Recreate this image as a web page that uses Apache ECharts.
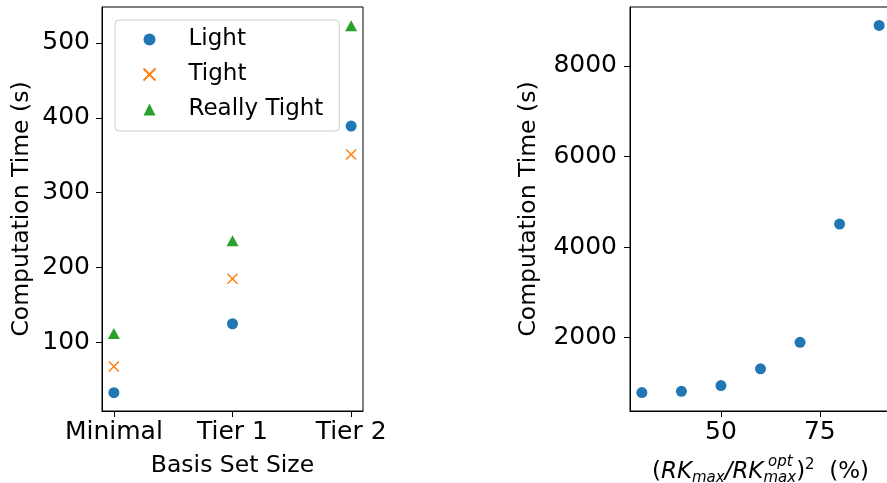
<!DOCTYPE html>
<html lang="en">
<head>
    <meta charset="UTF-8">
    <title>Computation Time</title>
    <script src="https://cdn.jsdelivr.net/npm/echarts@6/dist/echarts.min.js"></script>
</head>
<body style="margin:0">
<div id="main" style="width: 887px;height: 483px"></div>
<script type="text/javascript">
  // left panel: basis set size vs time
  var categories = ['Minimal', 'Tier 1', 'Tier 2'];
  var lightTimes = [33, 125, 389];
  var tightTimes = [68, 185, 351];
  var reallyTightTimes = [112, 236, 523];
  var leftYTicks = [100, 200, 300, 400, 500];

  // right panel: RKmax ratio vs time
  var rkPercent = [30, 40, 50, 60, 70, 80, 90];
  var rkTimes = [786, 815, 941, 1312, 1896, 4508, 8893];
  var rightXTicks = [50, 75];
  var rightYTicks = [2000, 4000, 6000, 8000];

  var font = 'DejaVu Sans';
  var black = '#000';

  function pairs(values) {
    return values.map(function(v, i) { return [i, v]; });
  }

  function valueAxis(gridIndex, min, max, ticks, extra) {
    var axis = {
      type: 'value',
      gridIndex: gridIndex,
      min: min,
      max: max,
      splitLine: { show: false },
      axisLine: { show: true, onZero: false, lineStyle: { color: black, width: 1 } },
      axisTick: { show: true, length: 6, lineStyle: { color: black }, customValues: ticks },
      axisLabel: {
        color: black, fontFamily: font, fontSize: 25, margin: 10, customValues: ticks,
        formatter: function(v) { return String(v); }
      },
      nameLocation: 'middle',
      nameTextStyle: { color: black, fontFamily: font, fontSize: 23.5 }
    };
    for (var k in extra) axis[k] = extra[k];
    return axis;
  }

  var myChart = echarts.init(document.getElementById('main'));

  var option = {
    animation: false,
    grid: [
      { left: 102, top: 7, width: 261, height: 404, outerBoundsMode: 'none', show: true, borderColor: black, borderWidth: 1 },
      { left: 630, top: 7, width: 261, height: 404, outerBoundsMode: 'none', show: true, borderColor: black, borderWidth: 1 }
    ],
    xAxis: [
      valueAxis(0, -0.1, 2.1, [0, 1, 2], {
        name: 'Basis Set Size',
        nameGap: 43
      }),
      valueAxis(1, 27, 93, rightXTicks, {
        name: '{n|(}{i|RK}{sub|max}{i|/RK}{sub|max}{n|)}{sup|2}{n|  (%)}',
        nameGap: 47
      })
    ],
    yAxis: [
      valueAxis(0, 8.5, 548, leftYTicks, {
        name: 'Computation Time (s)',
        nameGap: 68
      }),
      valueAxis(1, 380, 9300, rightYTicks, {
        name: 'Computation Time (s)',
        nameGap: 89
      })
    ],
    legend: {
      orient: 'vertical',
      left: 115,
      top: 20,
      padding: [8, 16, 10, 26],
      itemWidth: 12,
      itemHeight: 12,
      itemGap: 12,
      borderColor: '#cccccc',
      borderWidth: 1,
      borderRadius: 4,
      backgroundColor: 'rgba(255,255,255,0.8)',
      textStyle: { color: black, fontFamily: font, fontSize: 23, padding: [0, 0, 0, 28] },
      data: ['Light', 'Tight', 'Really Tight']
    },
    series: [
      {
        name: 'Light', type: 'scatter', xAxisIndex: 0, yAxisIndex: 0,
        symbol: 'circle', symbolSize: 11,
        itemStyle: { color: '#1f77b4', opacity: 1 },
        data: pairs(lightTimes)
      },
      {
        name: 'Tight', type: 'scatter', xAxisIndex: 0, yAxisIndex: 0,
        symbol: 'path://M0,0L10,10M10,0L0,10', symbolSize: 10,
        itemStyle: { color: 'none', borderColor: '#ff7f0e', borderWidth: 1.5, opacity: 1 },
        data: pairs(tightTimes)
      },
      {
        name: 'Really Tight', type: 'scatter', xAxisIndex: 0, yAxisIndex: 0,
        symbol: 'triangle', symbolSize: [12, 11],
        itemStyle: { color: '#2ca02c', opacity: 1 },
        data: pairs(reallyTightTimes)
      },
      {
        name: 'rk', type: 'scatter', xAxisIndex: 1, yAxisIndex: 1,
        symbol: 'circle', symbolSize: 11,
        itemStyle: { color: '#1f77b4', opacity: 1 },
        data: rkPercent.map(function(p, i) { return [p, rkTimes[i]]; })
      }
    ]
  };

  option.xAxis[0].axisLabel.formatter = function(v) { return categories[Math.round(v)]; };
  option.xAxis[0].axisLabel.margin = 9;
  option.xAxis[1].axisLabel.margin = 9;
  option.yAxis[0].axisLabel.margin = 12;
  option.yAxis[1].axisLabel.margin = 13;
  option.xAxis[1].nameTextStyle.rich = {
    n: { fontFamily: font, fontSize: 23, color: black, lineHeight: 28 },
    i: { fontFamily: font, fontSize: 23, fontStyle: 'italic', color: black, lineHeight: 28 },
    sub: { fontFamily: font, fontSize: 15, fontStyle: 'italic', color: black, verticalAlign: 'bottom', lineHeight: 14 },
    sup: { fontFamily: font, fontSize: 15, color: black, verticalAlign: 'top', lineHeight: 14 }
  };

  myChart.setOption(option);

  // stacked superscript over the second subscript
  var supX = 768, supY = 455;
  myChart.setOption({
    graphic: [{
      type: 'text', left: supX, top: supY,
      style: { text: 'opt', fontFamily: font, fontSize: 15, fontStyle: 'italic', fill: black }
    }]
  });
</script>
</body>
</html>
